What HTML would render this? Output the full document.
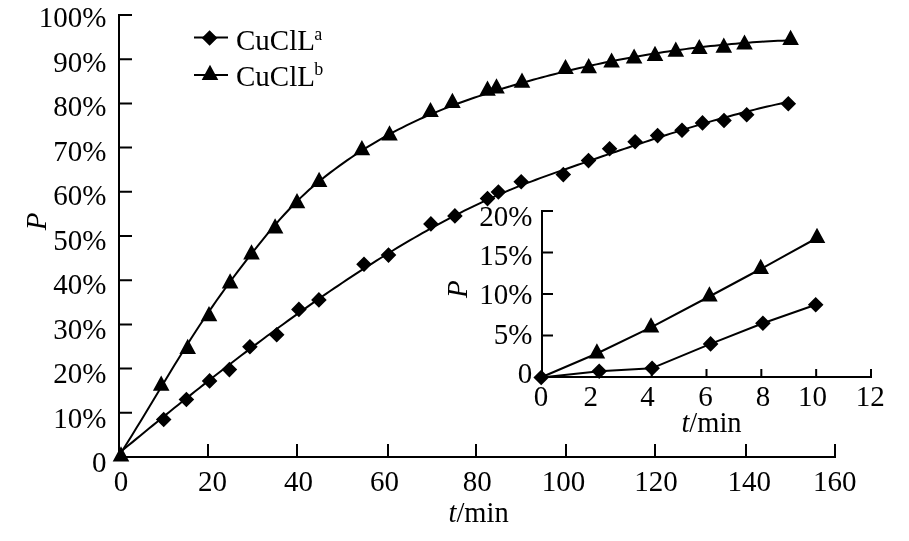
<!DOCTYPE html><html><head><meta charset="utf-8"><style>
html,body{margin:0;padding:0;background:#fff;}body{width:909px;height:541px;overflow:hidden;}
svg{display:block;filter:grayscale(1);}text{font-family:"Liberation Serif", serif;font-size:29px;fill:#000;}
</style></head><body>
<svg width="909" height="541" viewBox="0 0 909 541">
<rect width="909" height="541" fill="#fff"/>
<path d="M119,14V458 M118,457H836 M119,457.00H132 M119,412.80H132 M119,368.60H132 M119,324.40H132 M119,280.20H132 M119,236.00H132 M119,191.80H132 M119,147.60H132 M119,103.40H132 M119,59.20H132 M119,15.00H132 M208.00,457V444 M297.00,457V444 M388.00,457V444 M476.00,457V444 M566.00,457V444 M655.00,457V444 M746.00,457V444 M835.00,457V444" stroke="#000" stroke-width="2" fill="none"/>
<text x="106.5" y="27.2" text-anchor="end">100%</text>
<text x="106.5" y="71.7" text-anchor="end">90%</text>
<text x="106.5" y="116.2" text-anchor="end">80%</text>
<text x="106.5" y="160.7" text-anchor="end">70%</text>
<text x="106.5" y="205.2" text-anchor="end">60%</text>
<text x="106.5" y="249.7" text-anchor="end">50%</text>
<text x="106.5" y="294.2" text-anchor="end">40%</text>
<text x="106.5" y="338.7" text-anchor="end">30%</text>
<text x="106.5" y="383.2" text-anchor="end">20%</text>
<text x="106.5" y="427.7" text-anchor="end">10%</text>
<text x="106.5" y="472.2" text-anchor="end">0</text>
<text x="120.9" y="491" text-anchor="middle">0</text>
<text x="212.5" y="491" text-anchor="middle">20</text>
<text x="298.5" y="491" text-anchor="middle">40</text>
<text x="384.5" y="491" text-anchor="middle">60</text>
<text x="477.2" y="491" text-anchor="middle">80</text>
<text x="563.4" y="491" text-anchor="middle">100</text>
<text x="656.1" y="491" text-anchor="middle">120</text>
<text x="749.3" y="491" text-anchor="middle">140</text>
<text x="834.7" y="491" text-anchor="middle">160</text>
<text x="478.6" y="522" text-anchor="middle" style="font-size:28.5px"><tspan font-style="italic">t</tspan>/min</text>
<text transform="translate(46,221.3) rotate(-90)" text-anchor="middle" font-style="italic">P</text>
<path d="M119.50,452.81 L123.71,449.32 L127.91,445.83 L132.12,442.36 L136.33,438.89 L140.53,435.43 L144.74,431.98 L148.94,428.53 L153.15,425.10 L157.36,421.67 L161.56,418.25 L165.77,414.85 L169.98,411.45 L174.18,408.06 L178.39,404.68 L182.59,401.31 L186.80,397.95 L191.01,394.60 L195.21,391.26 L199.42,387.93 L203.63,384.61 L207.83,381.31 L212.04,378.01 L216.24,374.73 L220.45,371.46 L224.66,368.20 L228.86,364.95 L233.07,361.72 L237.28,358.49 L241.48,355.28 L245.69,352.09 L249.89,348.90 L254.10,345.74 L258.31,342.58 L262.51,339.44 L266.72,336.31 L270.93,333.20 L275.13,330.10 L279.34,327.01 L283.55,323.94 L287.75,320.89 L291.96,317.85 L296.16,314.83 L300.37,311.82 L304.58,308.84 L308.78,305.86 L312.99,302.91 L317.20,299.97 L321.40,297.05 L325.61,294.15 L329.81,291.27 L334.02,288.41 L338.23,285.57 L342.43,282.74 L346.64,279.94 L350.85,277.15 L355.05,274.39 L359.26,271.64 L363.46,268.92 L367.67,266.22 L371.88,263.54 L376.08,260.88 L380.29,258.25 L384.50,255.64 L388.70,253.05 L392.91,250.48 L397.12,247.94 L401.32,245.42 L405.53,242.92 L409.73,240.45 L413.94,238.00 L418.15,235.58 L422.35,233.19 L426.56,230.82 L430.77,228.47 L434.97,226.15 L439.18,223.86 L443.38,221.60 L447.59,219.36 L451.80,217.16 L456.00,214.98 L460.21,212.83 L464.42,210.72 L468.62,208.63 L472.83,206.57 L477.03,204.55 L481.24,202.56 L485.45,200.60 L489.65,198.68 L493.86,196.79 L498.07,194.93 L502.27,193.11 L506.48,191.33 L510.68,189.58 L514.89,187.87 L519.10,186.18 L523.30,184.53 L527.51,182.91 L531.72,181.31 L535.92,179.74 L540.13,178.18 L544.34,176.65 L548.54,175.13 L552.75,173.63 L556.95,172.14 L561.16,170.66 L565.37,169.19 L569.57,167.72 L573.78,166.25 L577.99,164.79 L582.19,163.33 L586.40,161.87 L590.60,160.41 L594.81,158.95 L599.02,157.50 L603.22,156.05 L607.43,154.61 L611.64,153.17 L615.84,151.73 L620.05,150.30 L624.25,148.87 L628.46,147.45 L632.67,146.04 L636.87,144.63 L641.08,143.23 L645.29,141.84 L649.49,140.45 L653.70,139.07 L657.91,137.71 L662.11,136.35 L666.32,135.00 L670.52,133.66 L674.73,132.33 L678.94,131.01 L683.14,129.71 L687.35,128.41 L691.56,127.13 L695.76,125.86 L699.97,124.60 L704.17,123.36 L708.38,122.13 L712.59,120.91 L716.79,119.71 L721.00,118.52 L725.21,117.35 L729.41,116.19 L733.62,115.06 L737.82,113.93 L742.03,112.83 L746.24,111.74 L750.44,110.67 L754.65,109.62 L758.86,108.58 L763.06,107.57 L767.27,106.57 L771.47,105.60 L775.68,104.64 L779.89,103.71 L784.09,102.80 L788.30,101.91" stroke="#000" stroke-width="2" fill="none" stroke-linejoin="round"/>
<path d="M119.50,455.06 L123.72,448.44 L127.94,441.73 L132.16,434.94 L136.38,428.08 L140.60,421.17 L144.82,414.22 L149.05,407.24 L153.27,400.24 L157.49,393.23 L161.71,386.22 L165.93,379.23 L170.15,372.27 L174.37,365.35 L178.59,358.48 L182.81,351.67 L187.03,344.94 L191.25,338.29 L195.47,331.74 L199.69,325.30 L203.92,318.96 L208.14,312.72 L212.36,306.59 L216.58,300.54 L220.80,294.59 L225.02,288.72 L229.24,282.93 L233.46,277.22 L237.68,271.59 L241.90,266.03 L246.12,260.54 L250.34,255.13 L254.56,249.79 L258.78,244.52 L263.01,239.33 L267.23,234.22 L271.45,229.20 L275.67,224.27 L279.89,219.46 L284.11,214.76 L288.33,210.20 L292.55,205.77 L296.77,201.49 L300.99,197.37 L305.21,193.41 L309.43,189.61 L313.65,185.95 L317.88,182.41 L322.10,178.98 L326.32,175.64 L330.54,172.39 L334.76,169.21 L338.98,166.10 L343.20,163.07 L347.42,160.11 L351.64,157.22 L355.86,154.40 L360.08,151.65 L364.30,148.96 L368.52,146.34 L372.75,143.78 L376.97,141.28 L381.19,138.85 L385.41,136.47 L389.63,134.15 L393.85,131.89 L398.07,129.69 L402.29,127.53 L406.51,125.43 L410.73,123.38 L414.95,121.38 L419.17,119.43 L423.39,117.53 L427.62,115.67 L431.84,113.85 L436.06,112.08 L440.28,110.34 L444.50,108.65 L448.72,106.99 L452.94,105.37 L457.16,103.79 L461.38,102.24 L465.60,100.72 L469.82,99.24 L474.04,97.78 L478.26,96.35 L482.48,94.95 L486.71,93.58 L490.93,92.23 L495.15,90.90 L499.37,89.59 L503.59,88.30 L507.81,87.03 L512.03,85.78 L516.25,84.54 L520.47,83.33 L524.69,82.13 L528.91,80.94 L533.13,79.78 L537.35,78.63 L541.58,77.50 L545.80,76.39 L550.02,75.29 L554.24,74.21 L558.46,73.15 L562.68,72.10 L566.90,71.08 L571.12,70.06 L575.34,69.07 L579.56,68.09 L583.78,67.13 L588.00,66.19 L592.22,65.27 L596.45,64.36 L600.67,63.46 L604.89,62.59 L609.11,61.73 L613.33,60.89 L617.55,60.06 L621.77,59.26 L625.99,58.46 L630.21,57.69 L634.43,56.93 L638.65,56.19 L642.87,55.46 L647.09,54.76 L651.32,54.06 L655.54,53.39 L659.76,52.73 L663.98,52.09 L668.20,51.46 L672.42,50.85 L676.64,50.26 L680.86,49.68 L685.08,49.12 L689.30,48.58 L693.52,48.05 L697.74,47.54 L701.96,47.04 L706.18,46.56 L710.41,46.10 L714.63,45.65 L718.85,45.22 L723.07,44.80 L727.29,44.40 L731.51,44.02 L735.73,43.65 L739.95,43.30 L744.17,42.97 L748.39,42.65 L752.61,42.35 L756.83,42.06 L761.05,41.79 L765.28,41.53 L769.50,41.29 L773.72,41.07 L777.94,40.86 L782.16,40.67 L786.38,40.49 L790.60,40.33" stroke="#000" stroke-width="2" fill="none" stroke-linejoin="round"/>
<path d="M163.70,411.70L171.50,419.50L163.70,427.30L155.90,419.50ZM186.40,391.70L194.20,399.50L186.40,407.30L178.60,399.50ZM209.60,373.10L217.40,380.90L209.60,388.70L201.80,380.90ZM229.40,361.80L237.20,369.60L229.40,377.40L221.60,369.60ZM249.90,339.00L257.70,346.80L249.90,354.60L242.10,346.80ZM276.70,327.00L284.50,334.80L276.70,342.60L268.90,334.80ZM298.90,301.60L306.70,309.40L298.90,317.20L291.10,309.40ZM318.90,292.10L326.70,299.90L318.90,307.70L311.10,299.90ZM364.00,256.40L371.80,264.20L364.00,272.00L356.20,264.20ZM388.50,247.30L396.30,255.10L388.50,262.90L380.70,255.10ZM430.90,216.10L438.70,223.90L430.90,231.70L423.10,223.90ZM454.90,208.10L462.70,215.90L454.90,223.70L447.10,215.90ZM487.50,190.80L495.30,198.60L487.50,206.40L479.70,198.60ZM498.40,184.20L506.20,192.00L498.40,199.80L490.60,192.00ZM521.20,174.00L529.00,181.80L521.20,189.60L513.40,181.80ZM563.30,166.80L571.10,174.60L563.30,182.40L555.50,174.60ZM588.50,152.80L596.30,160.60L588.50,168.40L580.70,160.60ZM609.60,141.00L617.40,148.80L609.60,156.60L601.80,148.80ZM635.10,134.00L642.90,141.80L635.10,149.60L627.30,141.80ZM657.60,127.80L665.40,135.60L657.60,143.40L649.80,135.60ZM682.00,122.40L689.80,130.20L682.00,138.00L674.20,130.20ZM702.50,115.10L710.30,122.90L702.50,130.70L694.70,122.90ZM724.00,112.70L731.80,120.50L724.00,128.30L716.20,120.50ZM746.70,106.90L754.50,114.70L746.70,122.50L738.90,114.70ZM788.30,95.90L796.10,103.70L788.30,111.50L780.50,103.70Z" fill="#000"/>
<path d="M121.00,446.30L129.30,461.50L112.70,461.50ZM161.20,375.50L169.50,390.70L152.90,390.70ZM187.70,338.80L196.00,354.00L179.40,354.00ZM209.00,306.10L217.30,321.30L200.70,321.30ZM230.10,273.20L238.40,288.40L221.80,288.40ZM251.50,244.20L259.80,259.40L243.20,259.40ZM275.10,218.30L283.40,233.50L266.80,233.50ZM297.00,193.00L305.30,208.20L288.70,208.20ZM319.10,171.80L327.40,187.00L310.80,187.00ZM361.90,140.10L370.20,155.30L353.60,155.30ZM389.50,125.30L397.80,140.50L381.20,140.50ZM430.50,101.90L438.80,117.10L422.20,117.10ZM452.40,92.70L460.70,107.90L444.10,107.90ZM487.50,80.50L495.80,95.70L479.20,95.70ZM496.50,78.30L504.80,93.50L488.20,93.50ZM522.00,72.60L530.30,87.80L513.70,87.80ZM565.50,58.90L573.80,74.10L557.20,74.10ZM588.70,58.00L597.00,73.20L580.40,73.20ZM611.60,52.40L619.90,67.60L603.30,67.60ZM634.10,48.40L642.40,63.60L625.80,63.60ZM655.00,45.70L663.30,60.90L646.70,60.90ZM675.80,41.50L684.10,56.70L667.50,56.70ZM699.30,38.90L707.60,54.10L691.00,54.10ZM723.80,37.50L732.10,52.70L715.50,52.70ZM744.50,34.40L752.80,49.60L736.20,49.60ZM790.60,29.70L798.90,44.90L782.30,44.90Z" fill="#000"/>
<path d="M194,37.6H228M194,74.9H228" stroke="#000" stroke-width="2"/>
<path d="M209.60,30.20L217.40,38.00L209.60,45.80L201.80,38.00ZM210.00,64.80L218.30,80.00L201.70,80.00Z" fill="#000"/>
<text x="236" y="49.8">CuClL<tspan font-size="18" dx="-0.6" dy="-10">a</tspan></text>
<text x="236" y="85.8">CuClL<tspan font-size="18" dx="-0.6" dy="-10.6">b</tspan></text>
<path d="M542,210V378 M541,377H872 M542,377.00H553 M542,335.50H553 M542,294.00H553 M542,252.50H553 M542,211.00H553 M596.83,377V369 M651.67,377V369 M706.50,377V369 M761.33,377V369 M816.17,377V369 M871.00,377V369" stroke="#000" stroke-width="2" fill="none"/>
<text x="532.3" y="226.0" text-anchor="end">20%</text>
<text x="532.3" y="265.3" text-anchor="end">15%</text>
<text x="532.3" y="304.2" text-anchor="end">10%</text>
<text x="532.3" y="343.6" text-anchor="end">5%</text>
<text x="532.3" y="383.0" text-anchor="end">0</text>
<text x="541.1" y="406" text-anchor="middle">0</text>
<text x="590.7" y="406" text-anchor="middle">2</text>
<text x="647.6" y="406" text-anchor="middle">4</text>
<text x="705.5" y="406" text-anchor="middle">6</text>
<text x="763.1" y="406" text-anchor="middle">8</text>
<text x="812.5" y="406" text-anchor="middle">10</text>
<text x="870.2" y="406" text-anchor="middle">12</text>
<text x="711.5" y="432" text-anchor="middle" style="font-size:28.5px"><tspan font-style="italic">t</tspan>/min</text>
<text transform="translate(467,289.2) rotate(-90)" text-anchor="middle" font-style="italic">P</text>
<path d="M542.00,377.00 L596.90,353.50 L651.00,327.40 L709.40,296.50 L760.70,269.00 L817.00,238.00" stroke="#000" stroke-width="2" fill="none" stroke-linejoin="round"/>
<path d="M541.20,377.50 L599.20,371.30 L652.10,368.20 L710.60,343.90 L762.90,323.30 L815.70,304.80" stroke="#000" stroke-width="2" fill="none" stroke-linejoin="round"/>
<path d="M596.90,343.30L605.20,358.50L588.60,358.50ZM651.00,317.20L659.30,332.40L642.70,332.40ZM709.40,286.30L717.70,301.50L701.10,301.50ZM760.70,258.80L769.00,274.00L752.40,274.00ZM817.00,227.80L825.30,243.00L808.70,243.00Z" fill="#000"/>
<path d="M541.20,369.70L549.00,377.50L541.20,385.30L533.40,377.50ZM599.20,363.50L607.00,371.30L599.20,379.10L591.40,371.30ZM652.10,360.40L659.90,368.20L652.10,376.00L644.30,368.20ZM710.60,336.10L718.40,343.90L710.60,351.70L702.80,343.90ZM762.90,315.50L770.70,323.30L762.90,331.10L755.10,323.30ZM815.70,297.00L823.50,304.80L815.70,312.60L807.90,304.80Z" fill="#000"/>
</svg></body></html>
